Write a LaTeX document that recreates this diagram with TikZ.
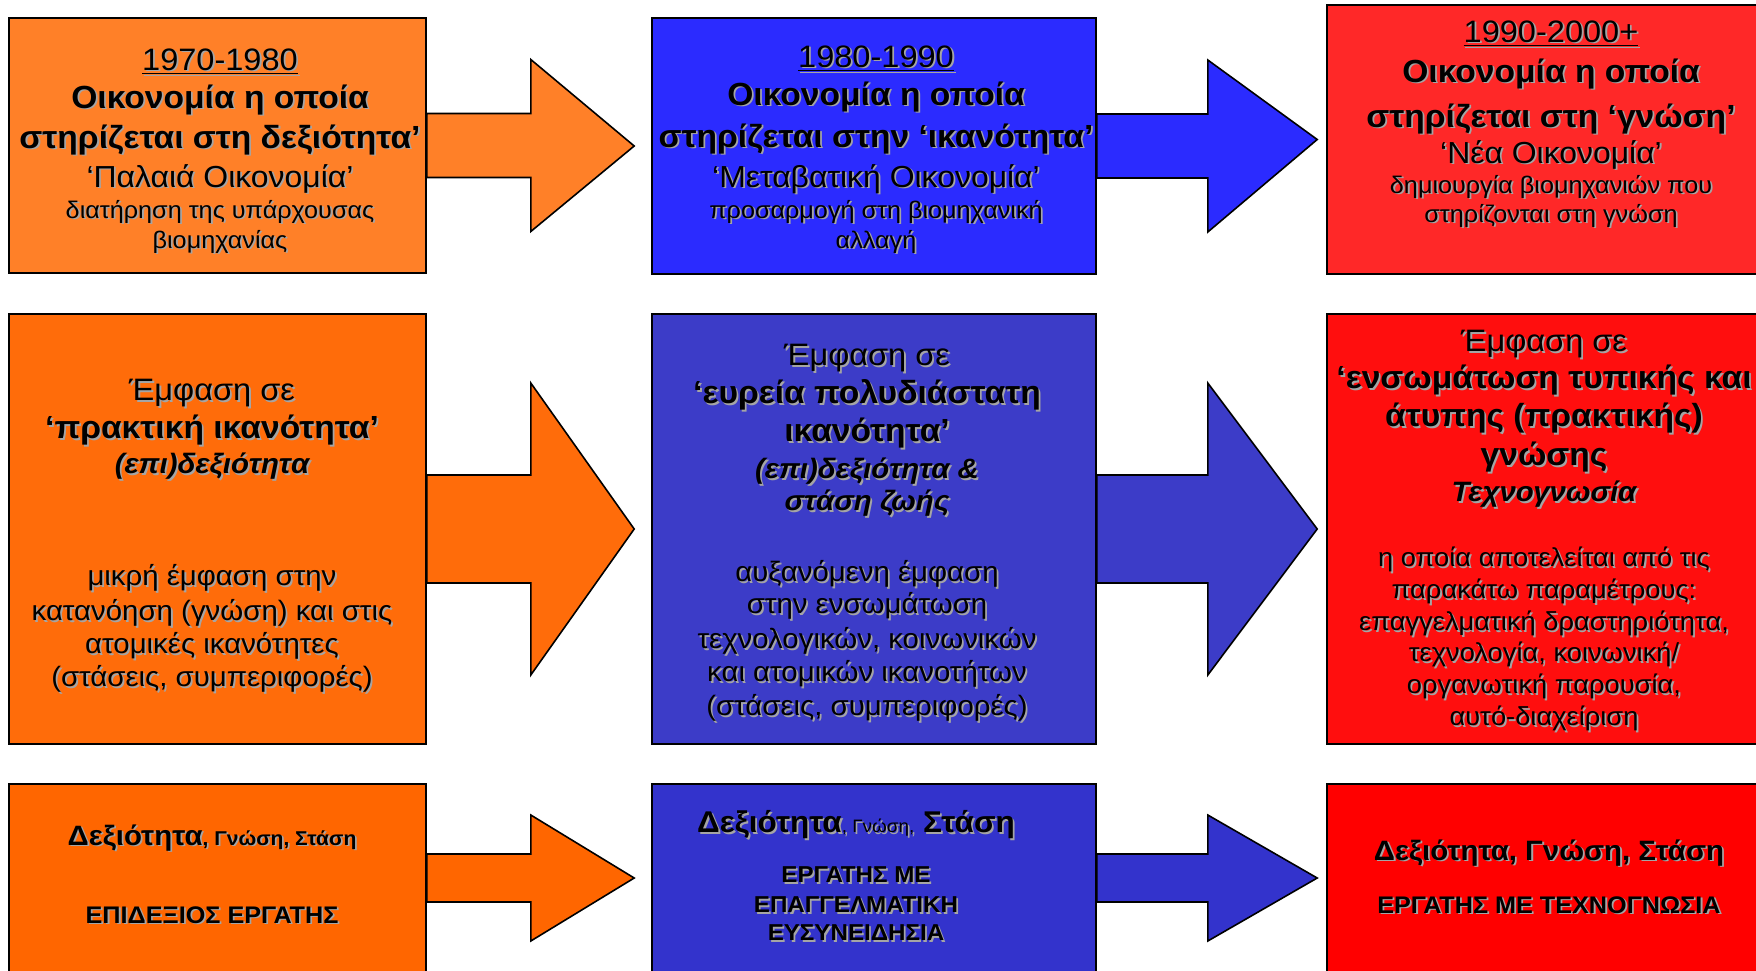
\documentclass[tikz,border=0pt]{standalone}
\usepackage{fontspec}
\setmainfont{Liberation Sans}[FakeStretch=1.05]
\usetikzlibrary{positioning,calc,fit}

\definecolor{orA}{RGB}{255,128,40}
\definecolor{orB}{RGB}{255,108,10}
\definecolor{orC}{RGB}{255,102,0}
\definecolor{blA}{RGB}{43,43,255}
\definecolor{blB}{RGB}{60,60,200}
\definecolor{blC}{RGB}{51,51,204}
\definecolor{rdA}{RGB}{255,40,40}
\definecolor{rdB}{RGB}{255,14,14}
\definecolor{rdC}{RGB}{255,0,0}
\definecolor{txtshadow}{RGB}{165,165,165}

% font size with no own line spacing: lines are spaced by \\[..]
\newcommand\fs[1]{\fontsize{#1}{0pt}\selectfont}
\newcommand\linesetup{\fs{14pt}\lineskiplimit=-\maxdimen}
% grey drop shadow under a line of text
\newcommand\sh[1]{\makebox[0pt][l]{\kern0.9pt\raisebox{-0.9pt}{\color{txtshadow}#1}}#1}

\tikzset{
  box/.style={draw=black, line width=0.8pt, inner sep=0pt},
  blockarrow/.style={draw=black, line width=0.8pt, line join=miter},
  txt/.style={align=center, inner sep=0pt, anchor=north, font=\linesetup},
}

\begin{document}
\begin{tikzpicture}[x=0.5pt,y=-0.5pt]
   \useasboundingbox (0,0) rectangle (1756,970);
   \clip (0,0) rectangle (1756,970);
   \fill[white] (0,0) rectangle (1756,970);

   % boxes
   \node[box, fill=orA, fit={(9,18) (426,273)}] (a1) {};
   \node[box, fill=blA, fit={(652,18) (1096,274)}] (a2) {};
   \node[box, fill=rdA, fit={(1327,5) (1781,274)}] (a3) {};
   \node[box, fill=orB, fit={(9,314) (426,744)}] (b1) {};
   \node[box, fill=blB, fit={(652,314) (1096,744)}] (b2) {};
   \node[box, fill=rdB, fit={(1327,314) (1781,744)}] (b3) {};
   \node[box, fill=orC, fit={(9,784) (426,972)}] (c1) {};
   \node[box, fill=blC, fit={(652,784) (1096,972)}] (c2) {};
   \node[box, fill=rdC, fit={(1327,784) (1781,972)}] (c3) {};

   % arrows
   \draw[blockarrow, fill=orA] ($(a1.east)+(0,-32)$) -- ++(104,0) -- ++(0,-54)
      -- ($(a2.west)+(-17,0)$) -- ($(a1.east)+(104,86)$) -- ++(0,-54) -- ($(a1.east)+(0,32)$) -- cycle;
   \draw[blockarrow, fill=blA] ($(a2.east)+(0,-32)$) -- ++(111,0) -- ++(0,-54)
      -- ($(a3.west)+(-9,0)$) -- ($(a2.east)+(111,86)$) -- ++(0,-54) -- ($(a2.east)+(0,32)$) -- cycle;
   \draw[blockarrow, fill=orB] ($(b1.east)+(0,-54)$) -- ++(104,0) -- ++(0,-92)
      -- ($(b2.west)+(-17,0)$) -- ($(b1.east)+(104,146)$) -- ++(0,-92) -- ($(b1.east)+(0,54)$) -- cycle;
   \draw[blockarrow, fill=blB] ($(b2.east)+(0,-54)$) -- ++(111,0) -- ++(0,-92)
      -- ($(b3.west)+(-9,0)$) -- ($(b2.east)+(111,146)$) -- ++(0,-92) -- ($(b2.east)+(0,54)$) -- cycle;
   \draw[blockarrow, fill=orC] ($(c1.east)+(0,-24)$) -- ++(104,0) -- ++(0,-39)
      -- ($(c2.west)+(-17,0)$) -- ($(c1.east)+(104,63)$) -- ++(0,-39) -- ($(c1.east)+(0,24)$) -- cycle;
   \draw[blockarrow, fill=blC] ($(c2.east)+(0,-24)$) -- ++(111,0) -- ++(0,-39)
      -- ($(c3.west)+(-9,0)$) -- ($(c2.east)+(111,63)$) -- ++(0,-39) -- ($(c2.east)+(0,24)$) -- cycle;

   % texts
   \node[txt] (ta1) at (220,48) {%
      {\fs{15.5pt}\sh{\underline{1970-1980}}}\\[19pt]
      {\fs{16pt}\bfseries\sh{Οικονομία η οποία}}\\[20pt]
      {\fs{16pt}\bfseries\sh{στηρίζεται στη δεξιότητα’}}\\[19.5pt]
      {\fs{15.2pt}\sh{‘Παλαιά Οικονομία’}}\\[15.5pt]
      {\fs{12pt}\sh{διατήρηση της υπάρχουσας}}\\[15pt]
      {\fs{12pt}\sh{βιομηχανίας}}};
   \node[txt] (ta2) at (876,45) {%
      {\fs{15.5pt}\sh{\underline{1980-1990}}}\\[19pt]
      {\fs{16pt}\bfseries\sh{Οικονομία η οποία}}\\[21pt]
      {\fs{16pt}\bfseries\sh{στηρίζεται στην ‘ικανότητα’}}\\[20pt]
      {\fs{15.2pt}\sh{‘Μεταβατική Οικονομία’}}\\[15.5pt]
      {\fs{12pt}\sh{προσαρμογή στη βιομηχανική}}\\[15pt]
      {\fs{12pt}\sh{αλλαγή}}};
   \node[txt] (ta3) at (1551,20) {%
      {\fs{15.5pt}\sh{\underline{1990-2000+}}}\\[20pt]
      {\fs{16pt}\bfseries\sh{Οικονομία η οποία}}\\[22.5pt]
      {\fs{16pt}\bfseries\sh{στηρίζεται στη ‘γνώση’}}\\[18pt]
      {\fs{15.2pt}\sh{‘Νέα Οικονομία’}}\\[15pt]
      {\fs{12pt}\sh{δημιουργία βιομηχανιών που}}\\[14.5pt]
      {\fs{12pt}\sh{στηρίζονται στη γνώση}}};

   \node[txt] (tb1) at (212,379) {%
      {\fs{15.5pt}\sh{Έμφαση σε}}\\[19pt]
      {\fs{16pt}\bfseries\sh{‘πρακτική ικανότητα’}}\\[17.5pt]
      {\fs{14pt}\bfseries\itshape\sh{(επι)δεξιότητα}}\\[56pt]
      {\fs{14pt}\sh{μικρή έμφαση στην}}\\[17.5pt]
      {\fs{14pt}\sh{κατανόηση (γνώση) και στις}}\\[16.5pt]
      {\fs{14pt}\sh{ατομικές ικανότητες}}\\[16.5pt]
      {\fs{14pt}\sh{(στάσεις, συμπεριφορές)}}};
   \node[txt] (tb2) at (867,344) {%
      {\fs{15.5pt}\sh{Έμφαση σε}}\\[19pt]
      {\fs{16pt}\bfseries\sh{‘ευρεία πολυδιάστατη}}\\[19pt]
      {\fs{16pt}\bfseries\sh{ικανότητα’}}\\[18.5pt]
      {\fs{14pt}\bfseries\itshape\sh{(επι)δεξιότητα \&}}\\[16pt]
      {\fs{14pt}\bfseries\itshape\sh{στάση ζωής}}\\[35.5pt]
      {\fs{14pt}\sh{αυξανόμενη έμφαση}}\\[16pt]
      {\fs{14pt}\sh{στην ενσωμάτωση}}\\[17.5pt]
      {\fs{14pt}\sh{τεχνολογικών, κοινωνικών}}\\[16.5pt]
      {\fs{14pt}\sh{και ατομικών ικανοτήτων}}\\[17pt]
      {\fs{14pt}\sh{(στάσεις, συμπεριφορές)}}};
   \node[txt] (tb3) at (1544,330) {%
      {\fs{15.5pt}\sh{Έμφαση σε}}\\[18.5pt]
      {\fs{16pt}\bfseries\sh{‘ενσωμάτωση τυπικής και}}\\[19pt]
      {\fs{16pt}\bfseries\sh{άτυπης (πρακτικής)}}\\[19.5pt]
      {\fs{16pt}\bfseries\sh{γνώσης}}\\[18pt]
      {\fs{14pt}\bfseries\itshape\sh{Τεχνογνωσία}}\\[32.5pt]
      {\fs{13pt}\sh{η οποία αποτελείται από τις}}\\[16pt]
      {\fs{13pt}\sh{παρακάτω παραμέτρους:}}\\[16pt]
      {\fs{13pt}\sh{επαγγελματική δραστηριότητα,}}\\[15.5pt]
      {\fs{13pt}\sh{τεχνολογία, κοινωνική/}}\\[16pt]
      {\fs{13pt}\sh{οργανωτική παρουσία,}}\\[16pt]
      {\fs{13pt}\sh{αυτό-διαχείριση}}};

   \node[txt] (tc1) at (212,824) {%
      {\fs{14pt}\bfseries\sh{Δεξιότητα{\fs{10pt}, Γνώση, Στάση}}}\\[39pt]
      {\fs{12pt}\bfseries\sh{ΕΠΙΔΕΞΙΟΣ ΕΡΓΑΤΗΣ}}};
   \node[txt] (tc2) at (856,810) {%
      {\fs{15pt}\bfseries\sh{Δεξιότητα{\fs{9pt}\mdseries, Γνώση,} Στάση}}\\[25pt]
      {\fs{11.5pt}\bfseries\sh{ΕΡΓΑΤΗΣ ΜΕ}}\\[15pt]
      {\fs{11.5pt}\bfseries\sh{ΕΠΑΓΓΕΛΜΑΤΙΚΗ}}\\[14pt]
      {\fs{11.5pt}\bfseries\sh{ΕΥΣΥΝΕΙΔΗΣΙΑ}}};
   \node[txt] (tc3) at (1549,839) {%
      {\fs{14pt}\bfseries\sh{Δεξιότητα, Γνώση, Στάση}}\\[26.5pt]
      {\fs{12pt}\bfseries\sh{ΕΡΓΑΤΗΣ ΜΕ ΤΕΧΝΟΓΝΩΣΙΑ}}};
\end{tikzpicture}
\end{document}
